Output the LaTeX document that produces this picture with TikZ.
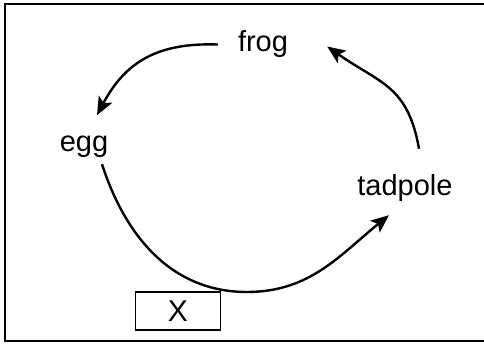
\documentclass[tikz,border=0pt]{standalone}
\usepackage{fontspec}
\setmainfont{Liberation Sans}
\usetikzlibrary{arrows.meta}

\begin{document}
\begin{tikzpicture}[x=1pt,y=1pt,
  stage/.style={font=\fontsize{29}{32}\selectfont,inner sep=0pt,anchor=base},
  lifearrow/.style={line width=2.4pt,-{Stealth[length=18pt,width=15pt,inset=4pt]}}]
%\draw[help lines,step=20](0,0)grid(484,343);
\useasboundingbox (0,0) rectangle (484,343);
\draw[line width=2pt] (484,339)--(5,339)--(5,2)--(484,2);
% the three stages
\node[stage] (frog) at (263,291) {frog};
\node[stage] (egg) at (84,191) {egg};
\node[stage] (tadpole) at (405,148) {tadpole};
\node[draw,line width=1.5pt,minimum width=85pt,minimum height=38pt,
  font=\fontsize{30}{32}\selectfont] (blank) at (178,32) {X};
\coordinate (low) at (247,51);
% arrows round the cycle
\draw[lifearrow] ([xshift=-20]frog.west) to[out=178,in=62,looseness=1.1] ([shift={(13,21)}]egg.north);
\draw[lifearrow] ([shift={(18,-6)}]egg.south) to[out=-72,in=180] (low)
  to[out=0,in=219] ([shift={(-16,-14)}]tadpole.south);
\draw[lifearrow] ([shift={(14,25)}]tadpole.north) to[out=100,in=-35,looseness=1.2] ([shift={(39,-2)}]frog.east);
\end{tikzpicture}
\end{document}
